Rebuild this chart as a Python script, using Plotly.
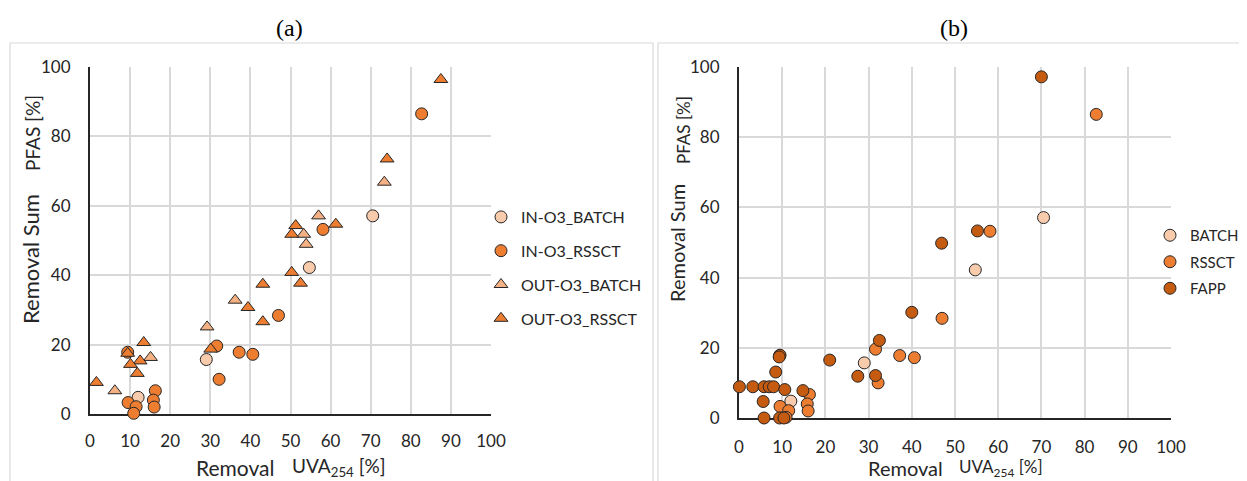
import plotly.graph_objects as go

# window size and the page's default body margin
WIN_W, WIN_H, OFF = 1247, 481, 8
W, H = WIN_W - OFF, WIN_H - OFF

# ---------------- data ----------------
# panel (a)
in_batch_x = [70.5, 54.7, 29.0, 12.0]
in_batch_y = [57.1, 42.2, 15.7, 4.8]
in_rssct_x = [82.7, 58.1, 47.0, 31.6, 37.2, 40.6, 32.2, 9.4, 9.5, 11.5, 10.9, 16.3, 15.8, 16.0]
in_rssct_y = [86.5, 53.2, 28.4, 19.6, 17.8, 17.2, 10.0, 17.8, 3.3, 2.1, 0.2, 6.7, 4.0, 2.0]
out_batch_x = [73.4, 57.0, 53.3, 53.9, 36.2, 29.2, 15.1, 6.2]
out_batch_y = [66.8, 57.1, 51.8, 48.9, 32.8, 25.1, 16.3, 6.7]
out_rssct_x = [87.5, 74.1, 61.3, 51.3, 50.3, 50.3, 52.5, 43.1, 39.4, 43.1, 30.1,
               13.4, 12.5, 10.1, 9.4, 11.8, 1.6]
out_rssct_y = [96.4, 73.5, 54.7, 54.3, 51.8, 40.8, 37.7, 37.4, 30.7, 26.6, 18.7,
               20.6, 15.3, 14.3, 17.5, 11.7, 9.1]

# panel (b)
batch_x = in_batch_x
batch_y = in_batch_y
rssct_x = in_rssct_x
rssct_y = in_rssct_y
fapp_x = [70.0, 55.2, 46.9, 40.0, 32.5, 27.5, 31.6, 21.0, 9.5, 9.3, 8.5,
          0.1, 3.2, 5.8, 7.0, 8.0, 10.6, 14.8, 5.6, 5.8, 9.4, 10.4]
fapp_y = [97.2, 53.3, 49.8, 30.1, 22.1, 11.9, 12.1, 16.5, 17.9, 17.4, 13.1,
          8.9, 8.9, 8.9, 8.9, 8.9, 8.1, 7.8, 4.7, 0.0, 0.0, 0.0]

x_ticks = list(range(0, 101, 10))
y_ticks = list(range(0, 101, 20))

# ---------------- style ----------------
C_LIGHT = "#F8CBAD"
C_MID = "#F4B183"
C_ORANGE = "#ED7D31"
C_DARK = "#C55A11"
EDGE = dict(color="#262626", width=1)
FONT = "Lato"
TXT = "#262626"


def px_x(p):
    return (p - OFF) / W


def px_y(p):
    return 1 - (p - OFF) / H


fig = go.Figure()


def add(x, y, name, color, symbol, xa, ya, legend):
    fig.add_trace(go.Scatter(
        x=x, y=y, mode="markers", name=name,
        marker=dict(color=color, symbol=symbol, size=12, line=EDGE),
        xaxis=xa, yaxis=ya, legend=legend, legendgroup=name + legend,
        cliponaxis=False,
    ))


add(in_batch_x, in_batch_y, "IN-O3_BATCH", C_LIGHT, "circle", "x", "y", "legend")
add(in_rssct_x, in_rssct_y, "IN-O3_RSSCT", C_ORANGE, "circle", "x", "y", "legend")
add(out_batch_x, out_batch_y, "OUT-O3_BATCH", C_MID, "triangle-up", "x", "y", "legend")
add(out_rssct_x, out_rssct_y, "OUT-O3_RSSCT", C_ORANGE, "triangle-up", "x", "y", "legend")

add(batch_x, batch_y, "BATCH", C_LIGHT, "circle", "x2", "y2", "legend2")
add(rssct_x, rssct_y, "RSSCT", C_ORANGE, "circle", "x2", "y2", "legend2")
add(fapp_x, fapp_y, "FAPP", C_DARK, "circle", "x2", "y2", "legend2")

axis_common = dict(
    range=[0, 100], showgrid=True, gridcolor="#D9D9D9", gridwidth=1.5,
    zeroline=False, showline=True, linecolor="#262626", linewidth=2,
    ticks="", tickfont=dict(family=FONT, size=17, color=TXT),
    layer="below traces", fixedrange=True, automargin=False,
)

fig.update_layout(
    width=W, height=H,
    margin=dict(l=0, r=0, t=0, b=0, autoexpand=False),
    paper_bgcolor="white", plot_bgcolor="white",
    font=dict(family=FONT, color=TXT),
    xaxis=dict(axis_common, domain=[px_x(90), px_x(491)], tickvals=x_ticks,
               anchor="y", ticklabelstandoff=11),
    yaxis=dict(axis_common, domain=[px_y(414), px_y(67)], tickvals=y_ticks,
               anchor="x", ticklabelstandoff=14),
    xaxis2=dict(axis_common, domain=[px_x(739), px_x(1171)], tickvals=x_ticks,
                anchor="y2", ticklabelstandoff=13),
    yaxis2=dict(axis_common, domain=[px_y(418), px_y(67)], tickvals=y_ticks,
                anchor="x2", ticklabelstandoff=14),
    legend=dict(x=px_x(481), y=px_y(200), xanchor="left", yanchor="top",
                bgcolor="rgba(0,0,0,0)", borderwidth=0, tracegroupgap=10,
                font=dict(family=FONT, size=16, color=TXT)),
    legend2=dict(x=px_x(1150), y=px_y(219), xanchor="left", yanchor="top",
                 bgcolor="rgba(0,0,0,0)", borderwidth=0, tracegroupgap=4,
                 font=dict(family=FONT, size=15, color=TXT)),
    showlegend=True,
)

# panel frames
for x0, x1 in [(10, 653), (658, 1270)]:
    fig.add_shape(type="rect", xref="paper", yref="paper",
                  x0=px_x(x0), x1=px_x(x1), y0=-0.1, y1=px_y(43),
                  line=dict(color="#D9D9D9", width=1.2), layer="below")

annots = [
    dict(text="(a)", x=289, y=28, size=24, family="Liberation Serif", angle=0),
    dict(text="(b)", x=954, y=28, size=24, family="Liberation Serif", angle=0),
    dict(text="Removal Sum", x=30, y=259, size=22, family=FONT, angle=-90),
    dict(text="PFAS [%]", x=32, y=133, size=19, family=FONT, angle=-90),
    dict(text="Removal Sum", x=677, y=243, size=20, family=FONT, angle=-90),
    dict(text="PFAS [%]", x=683, y=130, size=17, family=FONT, angle=-90),
    dict(text="Removal", x=235, y=467, size=21, family=FONT, angle=0),
    dict(text="UVA<sub>254</sub> [%]", x=339, y=467, size=19, family=FONT, angle=0),
    dict(text="Removal", x=905, y=468, size=20, family=FONT, angle=0),
    dict(text="UVA<sub>254</sub> [%]", x=1001, y=468, size=17, family=FONT, angle=0),
]
for a in annots:
    fig.add_annotation(
        text=a["text"], xref="paper", yref="paper",
        x=px_x(a["x"]), y=px_y(a["y"]), xanchor="center", yanchor="middle",
        showarrow=False, textangle=a["angle"],
        font=dict(family=a["family"], size=a["size"],
                  color="#000000" if a["family"] != FONT else TXT),
    )

fig.write_html("out.html")
